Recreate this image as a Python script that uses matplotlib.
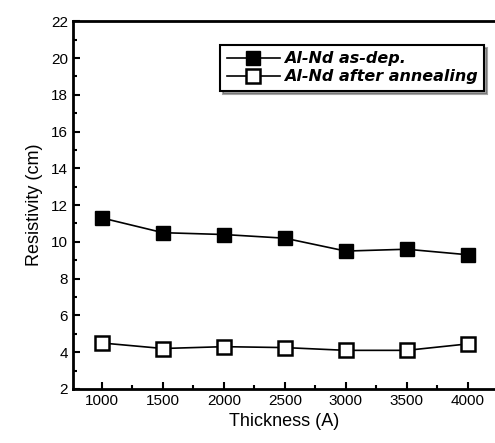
import matplotlib
matplotlib.use('Agg')
import matplotlib.pyplot as plt
from matplotlib.ticker import MultipleLocator

plt.rcParams['font.family'] = ['Liberation Sans', 'DejaVu Sans']

# Data
thickness = [1000, 1500, 2000, 2500, 3000, 3500, 4000]
as_dep = [11.3, 10.5, 10.4, 10.2, 9.5, 9.6, 9.3]
annealed = [4.5, 4.2, 4.3, 4.25, 4.1, 4.1, 4.45]

fig = plt.figure(figsize=(4.95, 4.43), dpi=100)
ax = fig.add_axes([0.147, 0.122, 0.853, 0.830])

ax.plot(thickness, as_dep, color='black', lw=1.2, marker='s', ms=10.5,
        mfc='black', mec='black', label='Al-Nd as-dep.')
ax.plot(thickness, annealed, color='black', lw=1.2, marker='s', ms=9.5,
        mfc='white', mec='black', mew=1.8, label='Al-Nd after annealing')

ax.set_xlim(760, 4224)
ax.set_ylim(2, 22)
ax.xaxis.set_major_locator(MultipleLocator(500))
ax.xaxis.set_minor_locator(MultipleLocator(250))
ax.yaxis.set_major_locator(MultipleLocator(2))
ax.yaxis.set_minor_locator(MultipleLocator(1))
ax.tick_params(which='both', direction='in', top=False, right=False,
               width=1.5, labelsize=11)
ax.tick_params(which='major', length=5)
ax.tick_params(which='minor', length=3)
ax.spines['right'].set_visible(False)
for s in ['left', 'bottom', 'top']:
    ax.spines[s].set_linewidth(2)

ax.set_xlabel('Thickness (A)', fontsize=13)
ax.set_ylabel('Resistivity (cm)', fontsize=13, labelpad=6)

leg = ax.legend(loc='upper right', bbox_to_anchor=(0.975, 0.936), frameon=True,
                fancybox=False, shadow=True, handlelength=3.3,
                handletextpad=0.3, labelspacing=0.2,
                prop={'family': 'DejaVu Sans', 'weight': 'bold',
                      'size': 11.5, 'style': 'italic'},
                borderpad=0.4, borderaxespad=0)
leg.get_frame().set_edgecolor('black')
leg.get_frame().set_linewidth(1.5)

fig.savefig('out.png', dpi=100)
